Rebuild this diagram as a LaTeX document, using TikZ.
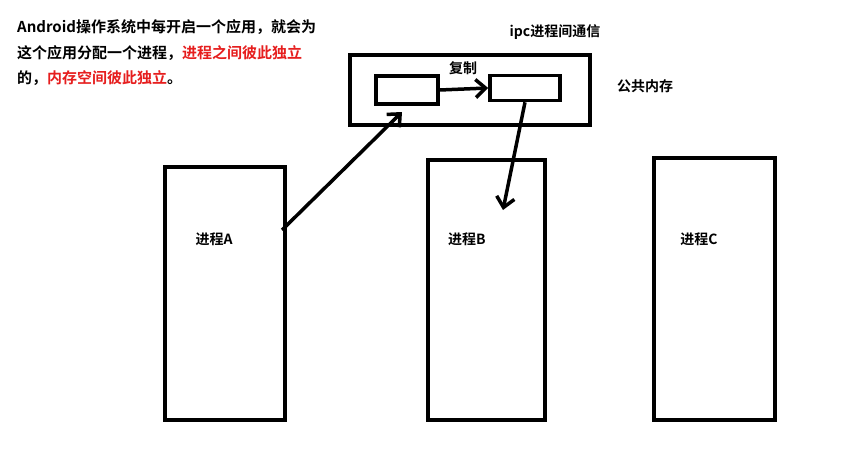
\documentclass[tikz,border=0pt]{standalone}
\usepackage{fontspec}
\setmainfont{Noto Sans CJK SC}[BoldFont={Noto Sans CJK SC Bold}]
\usetikzlibrary{arrows.meta}
\definecolor{redtxt}{RGB}{230,30,30}
\tikzset{box/.style={draw=black,line width=4pt},
 conn/.style={draw=black,line width=3.5pt,-{Straight Barb[length=10pt,width=18pt,line width=3.5pt]}},
 lbl/.style={font=\bfseries\fontsize{14pt}{16pt}\selectfont,inner sep=0pt},
 toptxt/.style={font=\bfseries\fontsize{15pt}{17pt}\selectfont,inner sep=0pt,anchor=west}}
\begin{document}
\begin{tikzpicture}[x=1pt,y=-1pt]
\useasboundingbox[fill=white] (0,0) rectangle (844,458);
\draw[box] (350,55) rectangle (590,125);
\node[box,minimum width=62pt,minimum height=28pt,inner sep=0pt,line width=3.5pt] (r1) at (407,90) {};
\node[box,minimum width=70pt,minimum height=25pt,inner sep=0pt,line width=3.5pt] (r2) at (525,88) {};
\node[box,minimum width=120pt,minimum height=253pt,inner sep=0pt] (A) at (225,293) {};
\node[box,minimum width=117pt,minimum height=260pt,inner sep=0pt] (B) at (486,290) {};
\node[box,minimum width=121pt,minimum height=262pt,inner sep=0pt] (C) at (714,289) {};
\node[lbl] (la) at (214,239) {进程A};
\node[lbl] (lb) at (467,239) {进程B};
\node[lbl] (lc) at (699,239) {进程C};
\node[lbl] (cp) at (463,68) {复制};
\node[lbl] (ipc) at (555,32) {ipc进程间通信};
\node[lbl] (mem) at (645,86) {公共内存};
\coordinate (a0) at (282,230);
\coordinate (a1) at (402,112);
\coordinate (b1) at (503,210);
\draw[conn] (r1.east) -- (r2.west);
\draw[conn] (a0) -- (a1);
\draw[conn] (r2.south) -- (b1);
\node[toptxt] (t1) at (17,27) {Android操作系统中每开启一个应用，就会为};
\node[toptxt] (t2) at (17,53) {这个应用分配一个进程，\textcolor{redtxt}{进程之间彼此独立}};
\node[toptxt] (t3) at (17,78) {的，\textcolor{redtxt}{内存空间彼此独立}。};
\end{tikzpicture}
\end{document}
